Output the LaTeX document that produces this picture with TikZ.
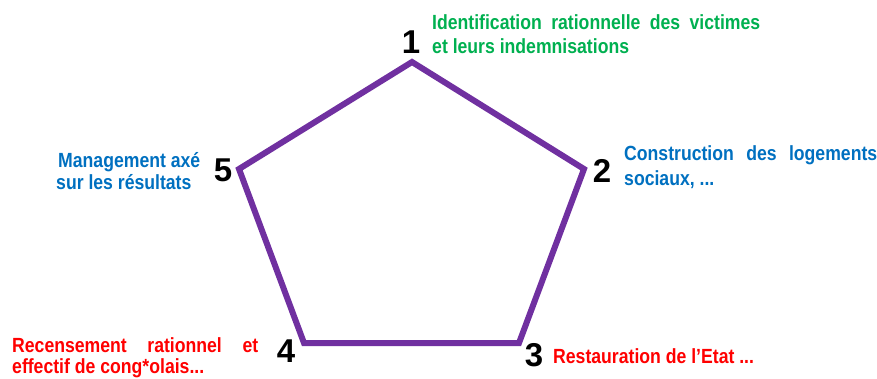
\documentclass[tikz,border=0pt]{standalone}
\usepackage{fontspec}
\setmainfont{Liberation Sans}[FakeStretch=0.86]
\newfontfamily\numfont{Liberation Sans}
\definecolor{penta}{RGB}{112,48,160}
\definecolor{lgreen}{RGB}{0,176,80}
\definecolor{lblue}{RGB}{0,112,192}
\definecolor{lred}{RGB}{255,0,0}
\begin{document}
\begin{tikzpicture}[x=1pt,y=-1pt,
  lbl/.style={anchor=base west,inner sep=0pt,font=\bfseries\fontsize{20.5}{24}\selectfont},
  num/.style={anchor=base,inner sep=0pt,font=\numfont\bfseries\fontsize{33}{36}\selectfont},
  edge/.style={draw=penta,line width=6pt,line join=miter}]
\useasboundingbox (0,0) rectangle (877,378);
\coordinate (v1) at (412,62);
\coordinate (v2) at (584,169);
\coordinate (v3) at (519,343);
\coordinate (v4) at (304,343);
\coordinate (v5) at (239,169);
\draw[edge] (v1) -- (v2) -- (v3) -- (v4) -- (v5) -- cycle;
% numbers
\node[num] (n1) at (411,53) {1};
\node[num] (n2) at (602,182) {2};
\node[num] (n3) at (534,366) {3};
\node[num] (n4) at (286,362) {4};
\node[num] (n5) at (223,181) {5};
% labels
\node[lbl,text=lgreen] (t1a) at (432,29) {\makebox[328pt][s]{Identification rationnelle des victimes}};
\node[lbl,text=lgreen] (t1b) at (432,53) {et leurs indemnisations};
\node[lbl,text=lblue] (t2a) at (624,160) {\makebox[253pt][s]{Construction des logements}};
\node[lbl,text=lblue] (t2b) at (624,185) {sociaux, ...};
\node[lbl,text=lblue] (t5a) at (58,167) {Management axé};
\node[lbl,text=lblue] (t5b) at (56,189) {sur les résultats};
\node[lbl,text=lred] (t4a) at (12,352) {\makebox[246pt][s]{Recensement rationnel et}};
\node[lbl,text=lred] (t4b) at (12,373) {effectif de cong*olais...};
\node[lbl,text=lred] (t3) at (553,363) {Restauration de l’Etat ...};
\end{tikzpicture}
\end{document}
